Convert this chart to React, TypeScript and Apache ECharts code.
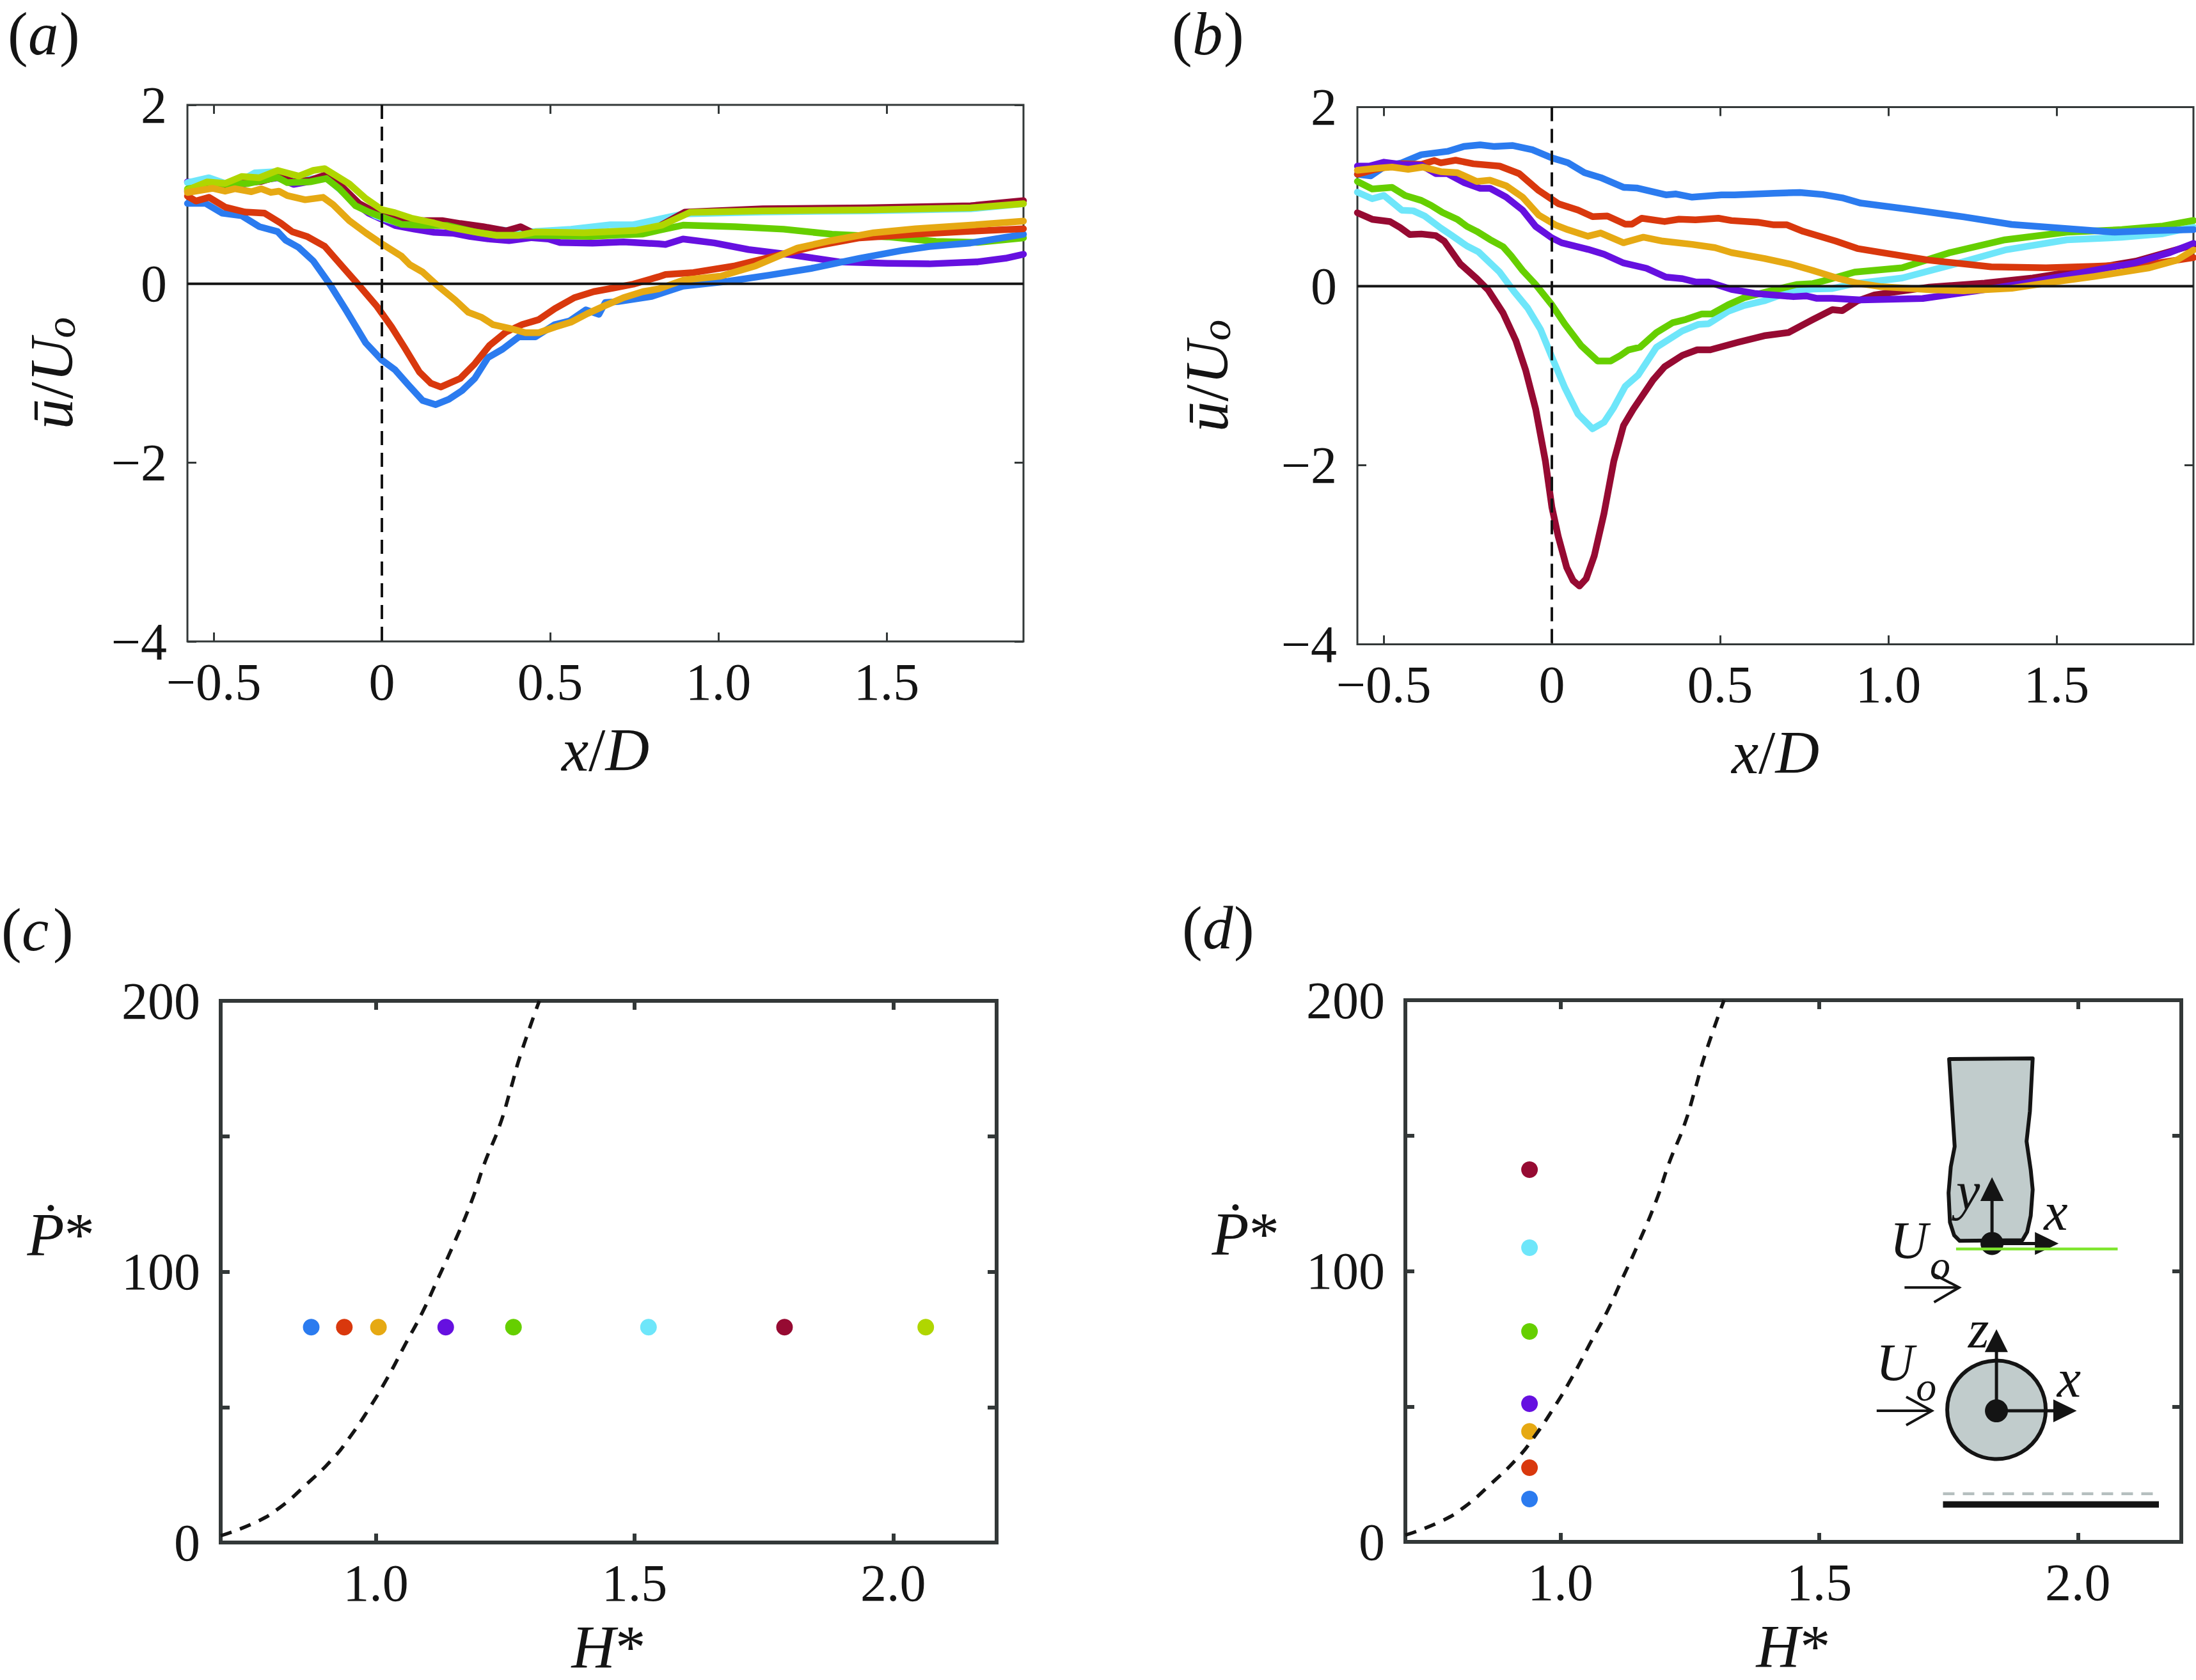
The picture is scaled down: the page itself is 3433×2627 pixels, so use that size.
import { useEffect, useRef } from "react";
import * as echarts from "echarts";

const BLUE = "#2b7bef";
const RED = "#d9380d";
const ORANGE = "#e6a913";
const PURPLE = "#6610e0";
const GREEN = "#66cf00";
const CYAN = "#6ee6fa";
const MAROON = "#960a32";
const LIME = "#b0d600";

// panel (a), x/D and u/Uo pairs
const aBlue = [[-0.578,0.898],[-0.524,0.898],[-0.475,0.789],[-0.417,0.761],[-0.364,0.638],[-0.31,0.583],[-0.286,0.487],[-0.247,0.405],[-0.204,0.255],[-0.155,-0.005],[-0.107,-0.293],[-0.048,-0.662],[0,-0.854],[0.039,-0.963],[0.078,-1.128],[0.121,-1.306],[0.16,-1.352],[0.199,-1.292],[0.238,-1.196],[0.276,-1.059],[0.315,-0.827],[0.359,-0.731],[0.407,-0.594],[0.456,-0.594],[0.514,-0.457],[0.558,-0.416],[0.606,-0.292],[0.645,-0.342],[0.664,-0.21],[0.702,-0.2],[0.802,-0.142],[0.895,-0.028],[1.03,0.028],[1.153,0.097],[1.276,0.171],[1.42,0.285],[1.544,0.37],[1.627,0.416],[1.75,0.456],[1.907,0.553]];
const aRed = [[-0.578,0.98],[-0.553,0.925],[-0.514,0.966],[-0.466,0.857],[-0.407,0.802],[-0.349,0.789],[-0.301,0.679],[-0.267,0.583],[-0.223,0.529],[-0.17,0.419],[-0.116,0.186],[-0.068,-0.019],[-0.015,-0.252],[0.029,-0.484],[0.068,-0.717],[0.112,-0.99],[0.146,-1.114],[0.175,-1.155],[0.233,-1.059],[0.276,-0.895],[0.32,-0.69],[0.369,-0.54],[0.417,-0.457],[0.466,-0.402],[0.514,-0.279],[0.572,-0.156],[0.63,-0.088],[0.689,-0.047],[0.747,-0.005],[0.822,0.077],[0.843,0.103],[0.926,0.125],[1.05,0.2],[1.173,0.313],[1.297,0.427],[1.42,0.513],[1.586,0.553],[1.75,0.587],[1.907,0.615]];
const aOrange = [[-0.578,1.02],[-0.504,1.067],[-0.466,1.035],[-0.437,1.062],[-0.388,1.029],[-0.359,1.062],[-0.33,1.021],[-0.306,1.035],[-0.281,0.986],[-0.228,0.939],[-0.175,0.966],[-0.145,0.884],[-0.097,0.706],[-0.048,0.569],[0,0.446],[0.058,0.309],[0.083,0.213],[0.121,0.131],[0.165,-0.019],[0.218,-0.183],[0.257,-0.32],[0.296,-0.375],[0.33,-0.457],[0.379,-0.498],[0.427,-0.548],[0.466,-0.548],[0.514,-0.485],[0.562,-0.43],[0.611,-0.334],[0.659,-0.252],[0.718,-0.156],[0.776,-0.088],[0.823,-0.057],[0.895,0.04],[1.008,0.085],[1.111,0.2],[1.235,0.399],[1.338,0.484],[1.462,0.57],[1.586,0.615],[1.75,0.655],[1.907,0.7]];
const aPurple = [[-0.578,1.139],[-0.524,1.117],[-0.466,1.09],[-0.407,1.117],[-0.359,1.158],[-0.31,1.185],[-0.262,1.111],[-0.213,1.144],[-0.165,1.185],[-0.116,1.048],[-0.078,0.898],[-0.039,0.788],[0,0.72],[0.039,0.652],[0.097,0.61],[0.155,0.575],[0.213,0.564],[0.262,0.528],[0.32,0.5],[0.378,0.482],[0.446,0.515],[0.495,0.5],[0.529,0.46],[0.626,0.454],[0.718,0.468],[0.822,0.446],[0.843,0.439],[0.895,0.5],[0.988,0.456],[1.09,0.382],[1.214,0.325],[1.359,0.245],[1.503,0.228],[1.627,0.222],[1.771,0.245],[1.854,0.285],[1.907,0.33]];
const aGreen = [[-0.578,1.06],[-0.5,1.11],[-0.4,1.12],[-0.31,1.19],[-0.281,1.131],[-0.213,1.14],[-0.165,1.177],[-0.126,1.062],[-0.078,0.871],[-0.039,0.802],[0,0.747],[0.058,0.665],[0.126,0.652],[0.194,0.652],[0.272,0.583],[0.339,0.542],[0.417,0.542],[0.514,0.537],[0.621,0.528],[0.708,0.547],[0.776,0.556],[0.823,0.598],[0.895,0.655],[1.05,0.638],[1.194,0.61],[1.338,0.553],[1.503,0.524],[1.647,0.473],[1.771,0.462],[1.907,0.513]];
const aCyan = [[-0.578,1.13],[-0.514,1.185],[-0.446,1.095],[-0.378,1.24],[-0.31,1.254],[-0.22,1.17],[-0.165,1.185],[-0.078,0.898],[-0.019,0.76],[0.048,0.679],[0.136,0.679],[0.213,0.679],[0.291,0.624],[0.369,0.597],[0.446,0.583],[0.562,0.61],[0.679,0.66],[0.747,0.66],[0.822,0.72],[0.895,0.78],[1.132,0.803],[1.441,0.815],[1.75,0.838],[1.907,0.895]];
const aMaroon = [[-0.578,1.035],[-0.524,1.076],[-0.466,1.084],[-0.407,1.131],[-0.359,1.144],[-0.31,1.199],[-0.262,1.139],[-0.213,1.158],[-0.17,1.213],[-0.116,1.076],[-0.068,0.898],[0,0.761],[0.078,0.706],[0.179,0.706],[0.233,0.673],[0.301,0.638],[0.369,0.591],[0.412,0.638],[0.456,0.556],[0.563,0.542],[0.708,0.569],[0.776,0.597],[0.822,0.638],[0.9,0.8],[1.132,0.838],[1.441,0.849],[1.75,0.872],[1.907,0.929]];
const aLime = [[-0.578,1.048],[-0.519,1.139],[-0.466,1.122],[-0.417,1.199],[-0.364,1.185],[-0.31,1.267],[-0.247,1.204],[-0.204,1.267],[-0.17,1.287],[-0.097,1.117],[-0.048,0.953],[0,0.829],[0.039,0.794],[0.087,0.734],[0.155,0.679],[0.204,0.63],[0.291,0.569],[0.339,0.542],[0.407,0.542],[0.456,0.578],[0.601,0.569],[0.757,0.597],[0.833,0.655],[0.916,0.798],[1.132,0.815],[1.441,0.826],[1.75,0.849],[1.907,0.895]];

// panel (b)
const bBlue = [[-0.578,1.25],[-0.538,1.232],[-0.495,1.341],[-0.446,1.378],[-0.388,1.469],[-0.31,1.506],[-0.262,1.56],[-0.213,1.578],[-0.17,1.56],[-0.116,1.571],[-0.058,1.524],[0,1.433],[0.048,1.378],[0.097,1.268],[0.145,1.213],[0.213,1.104],[0.252,1.097],[0.339,1.02],[0.369,1.03],[0.417,0.994],[0.504,1.02],[0.543,1.02],[0.66,1.038],[0.737,1.046],[0.805,1.024],[0.863,0.987],[0.918,0.928],[1.061,0.859],[1.224,0.774],[1.367,0.689],[1.531,0.643],[1.673,0.603],[1.776,0.62],[1.907,0.632]];
const bRed = [[-0.578,1.25],[-0.524,1.305],[-0.446,1.367],[-0.388,1.36],[-0.349,1.403],[-0.33,1.378],[-0.286,1.407],[-0.233,1.367],[-0.155,1.341],[-0.097,1.257],[-0.039,1.068],[0.019,0.922],[0.078,0.85],[0.121,0.777],[0.165,0.784],[0.218,0.693],[0.238,0.693],[0.267,0.759],[0.335,0.722],[0.378,0.748],[0.427,0.741],[0.495,0.759],[0.534,0.733],[0.611,0.715],[0.66,0.685],[0.699,0.685],[0.747,0.612],[0.844,0.503],[0.908,0.421],[0.98,0.376],[1.122,0.29],[1.306,0.216],[1.469,0.205],[1.612,0.222],[1.776,0.245],[1.907,0.319]];
const bOrange = [[-0.578,1.294],[-0.524,1.316],[-0.475,1.33],[-0.427,1.305],[-0.383,1.33],[-0.33,1.279],[-0.281,1.268],[-0.223,1.17],[-0.184,1.184],[-0.136,1.122],[-0.087,0.995],[-0.039,0.794],[0.01,0.685],[0.048,0.63],[0.107,0.558],[0.145,0.594],[0.213,0.485],[0.272,0.547],[0.33,0.503],[0.417,0.467],[0.485,0.43],[0.534,0.375],[0.631,0.31],[0.708,0.248],[0.776,0.175],[0.854,0.084],[0.908,0.034],[0.98,-0.006],[1.122,-0.04],[1.224,-0.051],[1.367,-0.023],[1.49,0.046],[1.612,0.108],[1.776,0.205],[1.857,0.29],[1.907,0.404]];
const bPurple = [[-0.578,1.341],[-0.543,1.341],[-0.499,1.385],[-0.446,1.359],[-0.388,1.352],[-0.345,1.257],[-0.31,1.257],[-0.262,1.159],[-0.213,1.093],[-0.184,1.093],[-0.136,0.995],[-0.087,0.85],[-0.048,0.667],[0,0.539],[0.029,0.485],[0.107,0.412],[0.155,0.357],[0.213,0.259],[0.281,0.2],[0.339,0.102],[0.388,0.084],[0.427,0.047],[0.466,0.047],[0.534,-0.036],[0.602,-0.08],[0.718,-0.117],[0.757,-0.109],[0.786,-0.135],[0.834,-0.135],[0.918,-0.154],[1.102,-0.137],[1.265,-0.051],[1.408,0.034],[1.571,0.148],[1.735,0.262],[1.837,0.376],[1.907,0.478]];
const bGreen = [[-0.578,1.17],[-0.534,1.086],[-0.475,1.104],[-0.436,1.013],[-0.388,0.958],[-0.359,0.903],[-0.325,0.823],[-0.281,0.747],[-0.252,0.667],[-0.223,0.612],[-0.184,0.521],[-0.145,0.441],[-0.121,0.339],[-0.087,0.175],[-0.048,0.018],[0,-0.208],[0.039,-0.426],[0.087,-0.663],[0.136,-0.835],[0.175,-0.835],[0.204,-0.773],[0.228,-0.711],[0.262,-0.682],[0.311,-0.518],[0.359,-0.408],[0.398,-0.372],[0.446,-0.31],[0.475,-0.31],[0.524,-0.208],[0.572,-0.128],[0.64,-0.062],[0.727,0.018],[0.776,0.029],[0.815,0.066],[0.9,0.157],[1.041,0.205],[1.184,0.376],[1.347,0.518],[1.531,0.603],[1.694,0.632],[1.816,0.672],[1.907,0.734]];
const bCyan = [[-0.578,1.05],[-0.534,0.977],[-0.499,1.013],[-0.446,0.849],[-0.412,0.842],[-0.378,0.784],[-0.33,0.649],[-0.301,0.576],[-0.252,0.448],[-0.218,0.383],[-0.155,0.157],[-0.112,-0.062],[-0.072,-0.244],[-0.034,-0.481],[0,-0.791],[0.039,-1.137],[0.078,-1.429],[0.121,-1.593],[0.155,-1.52],[0.184,-1.356],[0.218,-1.119],[0.257,-0.991],[0.311,-0.682],[0.388,-0.499],[0.436,-0.426],[0.466,-0.419],[0.524,-0.281],[0.572,-0.215],[0.631,-0.164],[0.708,-0.062],[0.776,-0.033],[0.834,-0.026],[0.9,0.029],[1.041,0.091],[1.184,0.233],[1.347,0.404],[1.531,0.518],[1.694,0.546],[1.816,0.586],[1.907,0.66]];
const bMaroon = [[-0.578,0.82],[-0.534,0.747],[-0.481,0.722],[-0.451,0.656],[-0.422,0.576],[-0.388,0.583],[-0.345,0.565],[-0.32,0.503],[-0.272,0.248],[-0.223,0.084],[-0.189,-0.044],[-0.145,-0.299],[-0.107,-0.608],[-0.078,-0.936],[-0.048,-1.374],[-0.019,-1.957],[0,-2.467],[0.019,-2.795],[0.044,-3.141],[0.063,-3.287],[0.082,-3.349],[0.102,-3.268],[0.126,-3.013],[0.155,-2.539],[0.184,-1.957],[0.213,-1.556],[0.242,-1.374],[0.301,-1.046],[0.335,-0.9],[0.388,-0.772],[0.432,-0.711],[0.471,-0.711],[0.553,-0.627],[0.631,-0.554],[0.703,-0.518],[0.776,-0.372],[0.834,-0.262],[0.863,-0.273],[0.908,-0.165],[0.959,-0.097],[1.122,-0.011],[1.286,0.034],[1.429,0.091],[1.571,0.176],[1.735,0.279],[1.907,0.461]];

// panels (c) and (d)
const onsetCurve = [[0.7,2.5],[0.769,7.6],[0.815,13],[0.863,21],[0.917,31],[0.95,39],[0.984,48.6],[1.02,60],[1.058,73.6],[1.09,85],[1.118,96.6],[1.15,110],[1.185,126],[1.21,140],[1.239,153.8],[1.26,167],[1.279,179.7],[1.316,200]];
const cColors = [BLUE, RED, ORANGE, PURPLE, GREEN, CYAN, MAROON, LIME];
const cH = [0.875, 0.939, 1.005, 1.135, 1.266, 1.527, 1.79, 2.063];
const cP = [79.5, 79.5, 79.5, 79.5, 79.5, 79.5, 79.5, 79.5];
const dColors = [BLUE, RED, ORANGE, PURPLE, GREEN, CYAN, MAROON];
const dH = [0.94, 0.94, 0.94, 0.94, 0.94, 0.94, 0.94];
const dP = [15.8, 27.4, 40.8, 51, 77.7, 108.6, 137.4];

const xProfileTicks = [-0.5, 0, 0.5, 1, 1.5];
const yProfileTicks = [2, 0, -2, -4];
const xPowerTicks = [1, 1.5, 2];
const yPowerTicks = [0, 50, 100, 150, 200];
const yPowerLabels = [0, 100, 200];

const SERIF = "'Liberation Serif', 'Times New Roman', serif";
const TICK_SIZE = 82;
const INK = "#141414";
const FRAME = "#333838";
const BODY = "#c1cccc";

const signed = (v: number) => String(v).replace("-", "\u2212");
const oneDecimal = (v: number) => (v === 0 || v === -0.5 || v === 0.5 || v === 1.5 ? signed(v) : v.toFixed(1));

const nameRich = {
  i: { fontFamily: SERIF, fontStyle: "italic", fontSize: 95, color: INK },
  n: { fontFamily: SERIF, fontSize: 95, color: INK },
  s: { fontFamily: SERIF, fontStyle: "italic", fontSize: 66, color: INK, padding: [28, 0, 0, 0] },
};

type Box = { left: number; top: number; width: number; height: number };

function frame(
  box: Box,
  xMin: number,
  xMax: number,
  yMin: number,
  yMax: number,
  xTicks: number[],
  yTicks: number[],
  yLabels: number[],
  xFmt: (v: number) => string,
  lineW: number,
  xName: string,
  yName: string,
  yNameOpts: object,
  xNameGap: number,
) {
  const tick = { show: true, inside: true, length: 14, lineStyle: { color: FRAME, width: lineW } };
  const xBase = { type: "value", min: xMin, max: xMax, splitLine: { show: false }, axisLine: { show: false, onZero: false } };
  const yBase = { type: "value", min: yMin, max: yMax, splitLine: { show: false }, axisLine: { show: false, onZero: false } };
  return {
    grid: { ...box, show: true, borderColor: FRAME, borderWidth: lineW, backgroundColor: "transparent", containLabel: false, outerBoundsMode: "none" },
    xAxis: [
      {
        ...xBase,
        position: "bottom",
        axisTick: { ...tick, customValues: xTicks },
        axisLabel: { show: true, customValues: xTicks, formatter: xFmt, margin: 22, fontFamily: SERIF, fontSize: TICK_SIZE, color: INK },
        name: xName,
        nameLocation: "middle",
        nameGap: xNameGap,
        nameMoveOverlap: false,
        nameTextStyle: { rich: nameRich },
      },
      { ...xBase, position: "top", axisTick: { ...tick, customValues: xTicks }, axisLabel: { show: false } },
    ],
    yAxis: [
      {
        ...yBase,
        position: "left",
        axisTick: { ...tick, customValues: yTicks },
        axisLabel: { show: true, customValues: yLabels, formatter: (v: number) => signed(v), margin: 32, fontFamily: SERIF, fontSize: TICK_SIZE, color: INK },
        name: yName,
        nameLocation: "middle",
        nameMoveOverlap: false,
        nameTextStyle: { rich: nameRich },
        ...yNameOpts,
      },
      { ...yBase, position: "right", axisTick: { ...tick, customValues: yTicks }, axisLabel: { show: false } },
    ],
  };
}

function curve(color: string, data: number[][], i: number) {
  return {
    type: "line",
    data,
    xAxisIndex: i * 2,
    yAxisIndex: i * 2,
    showSymbol: false,
    symbol: "none",
    lineStyle: { color, width: 10.5, join: "round", cap: "round" },
  };
}

function refLine(data: number[][], i: number, width: number, dash?: number[], smooth = false) {
  return {
    type: "line",
    data,
    smooth,
    xAxisIndex: i * 2,
    yAxisIndex: i * 2,
    symbol: "none",
    lineStyle: { color: INK, width, type: dash ?? "solid" },
  };
}

function dots(xs: number[], ys: number[], colors: string[], i: number) {
  return {
    type: "scatter",
    xAxisIndex: i * 2,
    yAxisIndex: i * 2,
    symbolSize: 26,
    data: xs.map((x, k) => ({ value: [x, ys[k]], itemStyle: { color: colors[k], opacity: 1 } })),
  };
}

// schematic in panel (d): coordinates measured in a crop of the page
const sx = (v: number) => 2750 + v / 2.296;
const sy = (v: number) => 1600 + v / 1.96;
const sp = (pts: number[][]) => pts.map(([x, y]) => [sx(x), sy(y)]);

const bodyOutline = [[682,110],[982,108],[972,270],[960,362],[975,450],[982,510],[975,590],[962,640],[945,665],[720,667],[700,650],[685,610],[680,520],[688,440],[702,378],[690,220]];

const schemLine = (pts: number[][], width: number, color = INK, lineDash?: number[]) => ({
  type: "polyline",
  z: 20,
  shape: { points: sp(pts) },
  style: { stroke: color, lineWidth: width, fill: null, lineDash, lineCap: "butt", lineJoin: "miter" },
});
const schemHead = (pts: number[][]) => ({
  type: "polygon",
  z: 20,
  shape: { points: sp(pts) },
  style: { fill: INK, stroke: null },
});
const schemText = (text: string, x: number, y: number, size: number) => ({
  type: "text",
  z: 22,
  x: sx(x),
  y: sy(y),
  style: { text, font: `italic ${size}px ${SERIF}`, fill: INK, align: "center", verticalAlign: "middle" },
});

const letterPiece = (text: string, x: number, y: number, italic: boolean) => ({
  type: "text",
  x,
  y,
  style: { text, font: `${italic ? "italic " : ""}95px ${SERIF}`, fill: INK, align: "left", verticalAlign: "bottom" },
});
const panelLetter = (letter: string, x: number, y: number) => [
  letterPiece("(", x, y, false),
  letterPiece(letter, x + 32, y, true),
  letterPiece(")", x + 81, y, false),
];

const schematic = [
  {
    type: "polygon",
    z: 18,
    shape: { points: sp(bodyOutline) },
    style: { fill: BODY, stroke: INK, lineWidth: 6, lineJoin: "round" },
  },
  schemLine([[836,675],[836,540]], 5),
  schemHead([[794,545],[878,545],[836,472]]),
  schemLine([[836,675],[1000,675]], 5),
  schemHead([[990,640],[990,710],[1075,675]]),
  { type: "circle", z: 20, shape: { cx: sx(836), cy: sy(675), r: 18 }, style: { fill: INK } },
  schemLine([[707,692],[1287,692]], 4.5, "#7fe62f"),
  schemText("y", 750, 515, 84),
  schemText("x", 1065, 578, 84),
  schemText("U", 538, 665, 82),
  schemText("o", 650, 742, 64),
  schemLine([[522,810],[718,810]], 4),
  schemLine([[628,770],[718,810],[628,855]], 4),
  {
    type: "circle",
    z: 18,
    shape: { cx: sx(852), cy: sy(1185), r: 77 },
    style: { fill: BODY, stroke: INK, lineWidth: 6 },
  },
  schemLine([[852,1188],[852,1005]], 5),
  schemHead([[810,1008],[893,1008],[852,938]]),
  schemLine([[852,1188],[1060,1188]], 5),
  schemHead([[1056,1153],[1056,1223],[1140,1188]]),
  { type: "circle", z: 20, shape: { cx: sx(852), cy: sy(1188), r: 18 }, style: { fill: INK } },
  schemText("z", 788, 938, 84),
  schemText("x", 1112, 1088, 84),
  schemText("U", 488, 1040, 82),
  schemText("o", 600, 1115, 64),
  schemLine([[422,1188],[620,1188]], 4),
  schemLine([[528,1145],[620,1188],[528,1232]], 4),
  schemLine([[660,1442],[1423,1442]], 4.5, "#b5bfbf", [18, 13]),
  schemLine([[660,1475],[1435,1475]], 10),
];

export default function App() {
  const ref = useRef<HTMLDivElement>(null);

  useEffect(() => {
    if (!ref.current) return;
    const chart = echarts.init(ref.current, undefined, { renderer: "svg" });

    const uName = "{i|\u016B}{n|/}{i|U}{s|o}";
    const pName = "{i|\u1E56}{n|*}";
    const hName = "{i|H}{n|*}";
    const xdName = "{i|x}{n|/}{i|D}";
    const pNameOpts = { nameRotate: 0, nameGap: 197, nameTextStyle: { rich: nameRich, padding: [0, 0, 116, 0] } };

    const panels = [
      frame({ left: 293, top: 164, width: 1307, height: 839 }, -0.578, 1.907, -4, 2, xProfileTicks, yProfileTicks, yProfileTicks, oneDecimal, 3, xdName, uName, { nameGap: 165, nameRotate: 90 }, 122),
      frame({ left: 2122, top: 167.5, width: 1307, height: 840 }, -0.578, 1.907, -4, 2, xProfileTicks, yProfileTicks, yProfileTicks, oneDecimal, 3, xdName, uName, { nameGap: 188, nameRotate: 90 }, 122),
      frame({ left: 345, top: 1565, width: 1213, height: 847 }, 0.7, 2.2, 0, 200, xPowerTicks, yPowerTicks, yPowerLabels, (v) => v.toFixed(1), 6, hName, pName, pNameOpts, 116),
      frame({ left: 2197, top: 1564, width: 1213, height: 847 }, 0.7, 2.2, 0, 200, xPowerTicks, yPowerTicks, yPowerLabels, (v) => v.toFixed(1), 6, hName, pName, pNameOpts, 116),
    ];

    const profileRefs = (i: number) => [
      refLine([[-0.578, 0], [1.907, 0]], i, 4),
      refLine([[0, 2], [0, -4]], i, 4, [22, 12]),
    ];

    const series = [
      ...[[PURPLE, aPurple], [CYAN, aCyan], [MAROON, aMaroon], [GREEN, aGreen], [LIME, aLime], [BLUE, aBlue], [RED, aRed], [ORANGE, aOrange]].map(
        ([c, d]) => curve(c as string, d as number[][], 0),
      ),
      ...profileRefs(0),
      ...[[MAROON, bMaroon], [CYAN, bCyan], [GREEN, bGreen], [BLUE, bBlue], [RED, bRed], [PURPLE, bPurple], [ORANGE, bOrange]].map(
        ([c, d]) => curve(c as string, d as number[][], 1),
      ),
      ...profileRefs(1),
      dots(cH, cP, cColors, 2),
      refLine(onsetCurve, 2, 5.5, [18, 14], true),
      dots(dH, dP, dColors, 3),
      refLine(onsetCurve, 3, 5.5, [18, 14], true),
    ];

    chart.setOption({
      animation: false,
      backgroundColor: "#ffffff",
      grid: panels.map((p) => p.grid),
      xAxis: panels.flatMap((p, i) => p.xAxis.map((a) => ({ ...a, gridIndex: i }))),
      yAxis: panels.flatMap((p, i) => p.yAxis.map((a) => ({ ...a, gridIndex: i }))),
      series,
      graphic: {
        elements: [
          ...panelLetter("a", 12, 100),
          ...panelLetter("b", 1832, 100),
          ...panelLetter("c", 2, 1501),
          ...panelLetter("d", 1848, 1498),
          ...schematic,
        ],
      },
    });

    return () => chart.dispose();
  }, []);

  return <div ref={ref} style={{ position: "absolute", left: 0, top: 0, width: 3433, height: 2627 }} />;
}
